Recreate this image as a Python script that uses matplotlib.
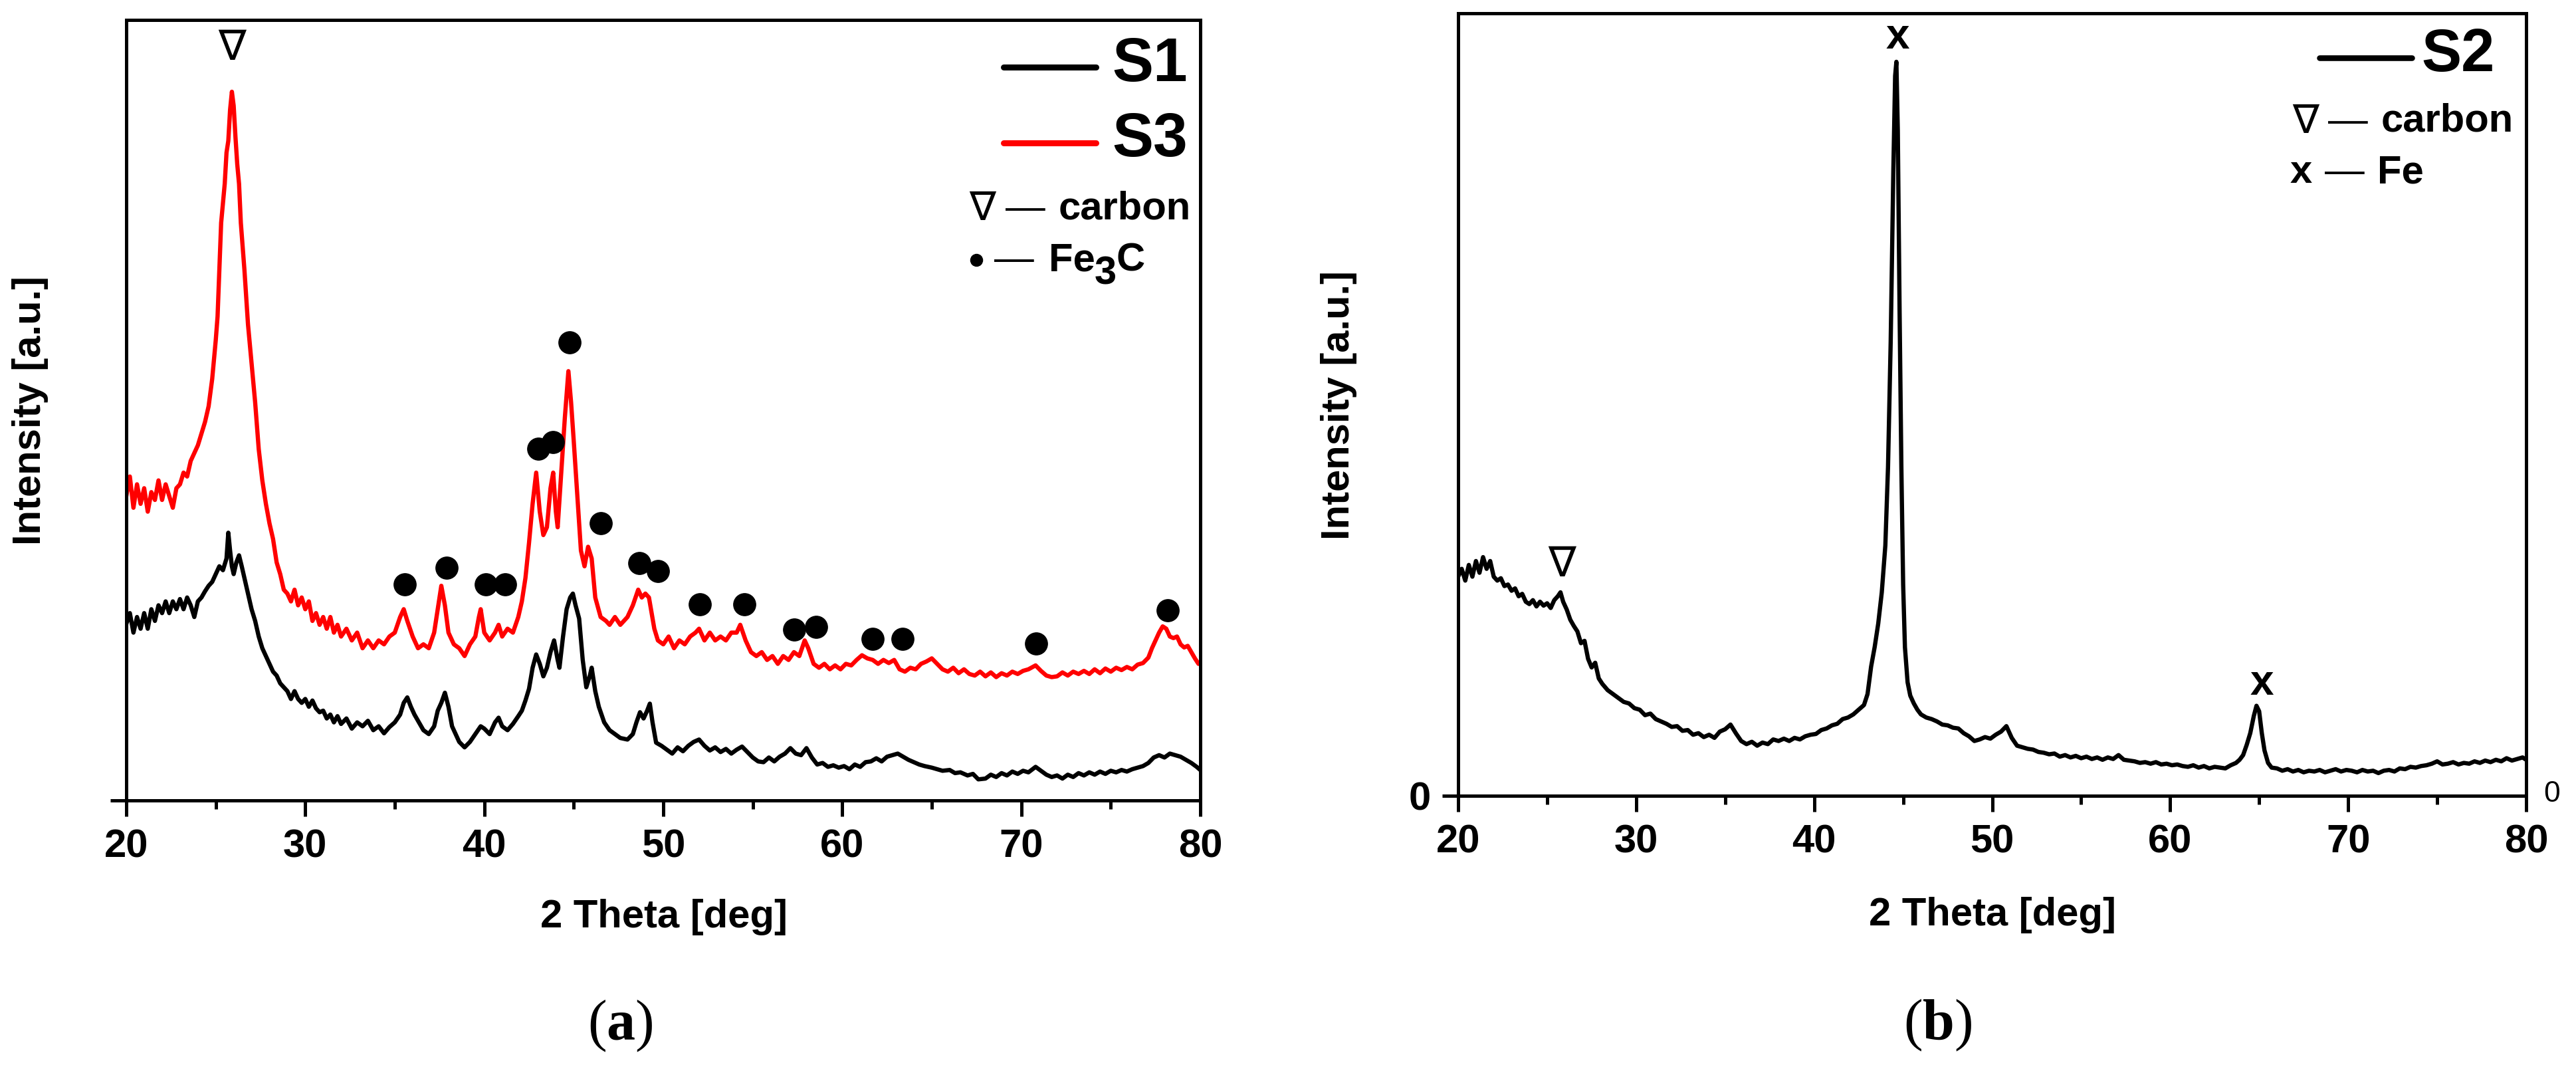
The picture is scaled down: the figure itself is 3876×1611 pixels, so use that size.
import matplotlib
matplotlib.use("Agg")
import matplotlib.pyplot as plt
from matplotlib.lines import Line2D
from matplotlib.ticker import MultipleLocator

plt.rcParams['font.family'] = ['Liberation Sans', 'DejaVu Sans']
plt.rcParams['mathtext.fontset'] = 'custom'
plt.rcParams['mathtext.rm'] = 'Liberation Serif'
plt.rcParams['mathtext.bf'] = 'Liberation Serif:bold'

# ---- data (2theta [deg], intensity [a.u.]) ----
s3_pts = [
    (20.0, 39.0), (20.2, 41.5), (20.4, 37.5), (20.6, 40.5), (20.8, 38.0), (21.0, 40.0),
    (21.2, 37.0), (21.4, 39.5), (21.6, 38.5), (21.8, 41.0), (22.0, 38.5), (22.2, 40.5),
    (22.4, 39.0), (22.6, 37.5), (22.8, 40.0), (23.0, 40.5), (23.2, 42.0), (23.4, 41.5),
    (23.6, 43.5), (23.8, 44.5), (24.0, 45.5), (24.2, 47.0), (24.4, 48.5), (24.6, 50.5),
    (24.8, 54.0), (25.0, 59.0), (25.1, 62.0), (25.2, 68.0), (25.3, 74.0), (25.4, 76.5),
    (25.5, 79.0), (25.6, 83.0), (25.7, 84.5), (25.8, 88.5), (25.9, 90.8), (26.0, 89.0),
    (26.1, 85.0), (26.2, 81.5), (26.3, 79.0), (26.4, 74.0), (26.6, 68.0), (26.8, 61.0),
    (27.0, 56.0), (27.2, 51.0), (27.4, 45.0), (27.6, 41.0), (27.8, 38.0), (28.0, 35.5),
    (28.2, 33.5), (28.4, 30.5), (28.6, 29.0), (28.8, 27.0), (29.0, 26.5), (29.2, 25.5),
    (29.4, 27.0), (29.6, 25.0), (29.8, 26.0), (30.0, 24.5), (30.2, 25.5), (30.4, 23.0),
    (30.6, 24.0), (30.8, 22.5), (31.0, 23.5), (31.2, 22.0), (31.4, 23.5), (31.6, 21.5),
    (31.8, 22.5), (32.0, 21.0), (32.3, 22.0), (32.6, 20.5), (32.9, 21.5), (33.2, 19.5),
    (33.5, 20.5), (33.8, 19.5), (34.1, 20.5), (34.4, 20.0), (34.7, 21.0), (35.0, 21.5),
    (35.3, 23.5), (35.5, 24.5), (35.7, 23.0), (36.0, 21.0), (36.3, 19.5), (36.6, 20.0),
    (36.9, 19.5), (37.2, 21.5), (37.4, 24.5), (37.6, 27.5), (37.8, 25.0), (38.0, 21.5),
    (38.3, 20.0), (38.6, 19.5), (38.9, 18.5), (39.2, 20.0), (39.5, 21.0), (39.7, 23.5),
    (39.8, 24.5), (40.0, 21.5), (40.3, 20.5), (40.6, 21.5), (40.8, 22.5), (41.0, 21.0),
    (41.3, 22.0), (41.6, 21.5), (41.9, 23.5), (42.1, 25.5), (42.3, 28.5), (42.5, 33.0),
    (42.7, 38.0), (42.9, 42.0), (43.1, 37.0), (43.3, 34.0), (43.5, 35.0), (43.7, 40.0),
    (43.85, 42.0), (44.0, 37.0), (44.1, 35.0), (44.3, 42.0), (44.5, 49.0), (44.7, 55.0),
    (44.85, 51.0), (45.0, 46.0), (45.2, 39.0), (45.4, 32.0), (45.6, 30.0), (45.8, 32.5),
    (46.0, 31.0), (46.2, 26.0), (46.5, 23.5), (46.8, 23.0), (47.0, 22.5), (47.3, 23.5),
    (47.6, 22.5), (48.0, 23.5), (48.3, 25.0), (48.6, 27.0), (48.8, 26.0), (49.0, 26.5),
    (49.2, 26.0), (49.5, 22.0), (49.7, 20.5), (50.0, 20.0), (50.3, 21.0), (50.6, 19.5),
    (50.9, 20.5), (51.2, 20.0), (51.5, 21.0), (51.8, 21.5), (52.0, 22.0), (52.3, 20.5),
    (52.6, 21.5), (52.9, 20.5), (53.2, 21.0), (53.5, 20.5), (53.8, 21.5), (54.1, 21.5),
    (54.3, 22.5), (54.6, 20.5), (54.9, 19.0), (55.2, 18.5), (55.5, 19.0), (55.8, 18.0),
    (56.1, 18.5), (56.4, 17.5), (56.7, 18.5), (57.0, 18.0), (57.3, 19.0), (57.6, 18.5),
    (57.9, 20.5), (58.1, 19.5), (58.4, 17.5), (58.7, 17.0), (59.0, 17.5), (59.3, 16.8),
    (59.6, 17.3), (59.9, 16.8), (60.2, 17.5), (60.5, 17.3), (60.8, 18.0), (61.1, 18.6),
    (61.4, 18.2), (61.7, 18.0), (62.0, 17.5), (62.3, 18.0), (62.6, 17.6), (62.9, 18.0),
    (63.2, 16.8), (63.5, 16.5), (63.8, 17.0), (64.1, 16.8), (64.4, 17.5), (64.7, 17.8),
    (65.0, 18.2), (65.3, 17.5), (65.6, 16.8), (65.9, 16.5), (66.2, 17.0), (66.5, 16.3),
    (66.8, 16.8), (67.1, 16.2), (67.4, 16.0), (67.7, 16.5), (68.0, 15.9), (68.3, 16.4),
    (68.6, 15.8), (68.9, 16.3), (69.2, 16.0), (69.5, 16.5), (69.8, 16.2), (70.1, 16.6),
    (70.4, 16.8), (70.8, 17.3), (71.1, 16.6), (71.4, 16.0), (71.7, 15.8), (72.0, 15.9),
    (72.3, 16.4), (72.6, 16.0), (72.9, 16.5), (73.2, 16.2), (73.5, 16.6), (73.8, 16.2),
    (74.1, 16.8), (74.4, 16.3), (74.7, 16.9), (75.0, 16.5), (75.3, 17.0), (75.6, 16.7),
    (75.9, 17.1), (76.2, 16.8), (76.5, 17.4), (76.8, 17.6), (77.1, 18.3), (77.3, 19.5),
    (77.5, 20.5), (77.7, 21.5), (77.9, 22.3), (78.1, 22.0), (78.3, 21.0), (78.5, 20.8),
    (78.7, 21.0), (78.9, 20.0), (79.1, 19.6), (79.3, 19.8), (79.5, 19.0), (79.7, 18.2),
    (79.9, 17.5), (80.0, 17.7),
]

s1_pts = [
    (20.0, 22.6), (20.2, 24.0), (20.4, 21.5), (20.6, 23.5), (20.8, 22.0), (21.0, 24.0),
    (21.2, 22.0), (21.4, 24.5), (21.6, 23.0), (21.8, 25.0), (22.0, 24.0), (22.2, 25.5),
    (22.4, 24.0), (22.6, 25.5), (22.8, 24.5), (23.0, 25.8), (23.2, 24.5), (23.4, 26.0),
    (23.6, 25.0), (23.8, 23.5), (24.0, 25.5), (24.2, 26.0), (24.4, 26.8), (24.6, 27.5),
    (24.8, 28.0), (25.0, 29.0), (25.2, 30.0), (25.4, 29.5), (25.6, 31.0), (25.7, 34.3),
    (25.8, 32.0), (25.9, 30.0), (26.0, 29.0), (26.15, 30.5), (26.3, 31.4), (26.45, 30.0),
    (26.6, 28.5), (26.8, 26.5), (27.0, 24.5), (27.2, 23.0), (27.4, 21.0), (27.6, 19.5),
    (27.8, 18.5), (28.0, 17.5), (28.2, 16.5), (28.4, 16.0), (28.6, 15.0), (28.8, 14.5),
    (29.0, 14.0), (29.2, 13.0), (29.4, 14.0), (29.6, 13.0), (29.8, 12.5), (30.0, 13.0),
    (30.2, 12.0), (30.4, 12.8), (30.6, 11.8), (30.8, 11.3), (31.0, 11.5), (31.2, 10.5),
    (31.4, 11.0), (31.6, 10.0), (31.8, 10.8), (32.0, 9.8), (32.3, 10.5), (32.6, 9.2),
    (32.9, 10.0), (33.2, 9.5), (33.5, 10.2), (33.8, 9.0), (34.1, 9.5), (34.4, 8.6),
    (34.7, 9.4), (35.0, 10.0), (35.3, 11.0), (35.5, 12.5), (35.7, 13.2), (35.9, 12.0),
    (36.1, 11.0), (36.3, 10.2), (36.6, 9.0), (36.9, 8.5), (37.2, 9.5), (37.4, 11.5),
    (37.6, 12.5), (37.8, 13.8), (38.0, 12.0), (38.2, 9.5), (38.4, 8.5), (38.6, 7.5),
    (38.9, 6.8), (39.2, 7.5), (39.5, 8.5), (39.8, 9.5), (40.0, 9.2), (40.3, 8.5),
    (40.6, 10.0), (40.8, 10.6), (41.0, 9.5), (41.3, 9.0), (41.6, 9.8), (41.9, 10.8),
    (42.1, 11.5), (42.3, 12.8), (42.5, 14.3), (42.7, 17.0), (42.9, 18.7), (43.1, 17.5),
    (43.3, 15.9), (43.5, 17.0), (43.7, 19.0), (43.9, 20.5), (44.1, 18.0), (44.2, 17.0),
    (44.4, 21.0), (44.6, 24.5), (44.8, 26.0), (44.95, 26.5), (45.1, 25.0), (45.3, 23.3),
    (45.5, 18.0), (45.7, 14.5), (45.9, 16.0), (46.0, 17.0), (46.2, 14.0), (46.4, 12.0),
    (46.7, 10.0), (47.0, 9.0), (47.3, 8.5), (47.6, 8.0), (48.0, 7.8), (48.3, 8.5),
    (48.5, 10.0), (48.7, 11.3), (48.9, 10.5), (49.1, 11.5), (49.25, 12.4), (49.4, 10.0),
    (49.6, 7.4), (49.9, 7.0), (50.2, 6.5), (50.5, 6.0), (50.8, 6.8), (51.1, 6.3),
    (51.4, 7.0), (51.7, 7.5), (52.0, 7.8), (52.3, 7.0), (52.6, 6.4), (52.9, 6.8),
    (53.2, 6.2), (53.5, 6.6), (53.8, 6.0), (54.1, 6.5), (54.4, 6.9), (54.7, 6.2),
    (55.0, 5.5), (55.3, 5.0), (55.6, 4.9), (55.9, 5.5), (56.2, 5.0), (56.5, 5.6),
    (56.8, 6.0), (57.1, 6.7), (57.4, 6.0), (57.7, 5.8), (58.0, 6.7), (58.3, 5.5),
    (58.6, 4.6), (58.9, 4.8), (59.2, 4.3), (59.5, 4.5), (59.8, 4.2), (60.1, 4.4),
    (60.4, 4.0), (60.7, 4.6), (61.0, 4.3), (61.3, 4.9), (61.6, 5.0), (61.9, 5.4),
    (62.2, 5.0), (62.5, 5.6), (62.8, 5.8), (63.1, 6.0), (63.4, 5.6), (63.7, 5.2),
    (64.0, 4.9), (64.3, 4.6), (64.6, 4.4), (65.0, 4.2), (65.3, 4.0), (65.6, 3.8),
    (66.0, 3.9), (66.3, 3.5), (66.6, 3.6), (67.0, 3.2), (67.3, 3.4), (67.6, 2.7),
    (68.0, 2.8), (68.3, 3.3), (68.6, 3.0), (68.9, 3.5), (69.2, 3.2), (69.5, 3.7),
    (69.8, 3.4), (70.1, 3.8), (70.4, 3.6), (70.8, 4.3), (71.1, 3.8), (71.4, 3.3),
    (71.7, 3.0), (72.0, 3.2), (72.3, 2.8), (72.6, 3.3), (72.9, 3.0), (73.2, 3.5),
    (73.5, 3.2), (73.8, 3.6), (74.1, 3.3), (74.4, 3.7), (74.7, 3.4), (75.0, 3.8),
    (75.3, 3.6), (75.6, 3.9), (75.9, 3.7), (76.2, 4.0), (76.5, 4.2), (76.8, 4.4),
    (77.1, 4.8), (77.4, 5.5), (77.7, 5.8), (78.0, 5.5), (78.3, 6.0), (78.6, 5.8),
    (78.9, 5.6), (79.2, 5.2), (79.5, 4.8), (79.8, 4.3), (80.0, 3.9),
]

s2_pts = [
    (20.0, 28.0), (20.2, 29.0), (20.4, 27.5), (20.6, 29.5), (20.8, 28.0), (21.0, 30.0),
    (21.2, 28.5), (21.4, 30.5), (21.6, 29.0), (21.8, 30.0), (22.0, 28.0), (22.2, 27.5),
    (22.4, 27.8), (22.6, 26.8), (22.8, 27.0), (23.0, 26.2), (23.2, 26.5), (23.4, 25.5),
    (23.6, 25.8), (23.8, 24.8), (24.0, 24.5), (24.2, 25.0), (24.4, 24.2), (24.6, 24.8),
    (24.8, 24.3), (25.0, 24.6), (25.2, 24.0), (25.4, 25.0), (25.6, 25.5), (25.75, 26.0),
    (25.9, 24.8), (26.1, 23.8), (26.3, 22.5), (26.5, 21.7), (26.7, 21.0), (26.9, 19.5),
    (27.1, 19.8), (27.3, 17.5), (27.5, 16.4), (27.7, 17.0), (27.9, 15.0), (28.1, 14.3),
    (28.4, 13.5), (28.7, 13.0), (29.0, 12.5), (29.3, 12.0), (29.6, 11.8), (29.9, 11.2),
    (30.2, 11.0), (30.5, 10.3), (30.8, 10.5), (31.1, 9.8), (31.4, 9.5), (31.7, 9.2),
    (32.0, 8.8), (32.3, 8.9), (32.6, 8.3), (32.9, 8.4), (33.2, 7.8), (33.5, 8.0),
    (33.8, 7.5), (34.1, 7.8), (34.4, 7.4), (34.7, 8.2), (35.0, 8.5), (35.3, 9.1),
    (35.6, 8.0), (35.9, 7.0), (36.2, 6.6), (36.5, 6.9), (36.8, 6.4), (37.1, 6.8),
    (37.4, 6.6), (37.7, 7.2), (38.0, 7.0), (38.3, 7.3), (38.6, 7.0), (38.9, 7.4),
    (39.2, 7.2), (39.5, 7.6), (39.8, 7.8), (40.1, 7.9), (40.4, 8.4), (40.7, 8.6),
    (41.0, 9.0), (41.3, 9.2), (41.6, 9.8), (41.9, 10.0), (42.2, 10.4), (42.5, 11.0),
    (42.8, 11.6), (43.0, 13.0), (43.2, 16.5), (43.4, 19.0), (43.6, 22.0), (43.8, 26.0),
    (44.0, 32.0), (44.15, 42.0), (44.3, 58.0), (44.45, 80.0), (44.55, 92.0), (44.62, 93.8),
    (44.7, 85.0), (44.8, 62.0), (44.9, 42.0), (45.0, 27.0), (45.1, 19.0), (45.25, 14.5),
    (45.4, 12.8), (45.6, 11.8), (45.8, 11.0), (46.0, 10.4), (46.3, 10.0), (46.6, 9.8),
    (46.9, 9.5), (47.2, 9.1), (47.5, 9.0), (47.8, 8.7), (48.1, 8.6), (48.4, 8.0),
    (48.7, 7.6), (49.0, 7.0), (49.3, 7.2), (49.6, 7.5), (49.9, 7.3), (50.2, 7.8),
    (50.5, 8.2), (50.8, 8.9), (51.1, 7.4), (51.4, 6.4), (51.7, 6.2), (52.0, 6.0),
    (52.3, 5.9), (52.6, 5.6), (52.9, 5.5), (53.2, 5.3), (53.5, 5.4), (53.8, 5.0),
    (54.1, 5.2), (54.4, 4.9), (54.7, 5.1), (55.0, 4.8), (55.3, 5.0), (55.6, 4.7),
    (55.9, 4.9), (56.2, 4.6), (56.5, 4.9), (56.8, 4.7), (57.1, 5.2), (57.4, 4.6),
    (57.7, 4.5), (58.0, 4.4), (58.3, 4.2), (58.6, 4.3), (58.9, 4.1), (59.2, 4.3),
    (59.5, 4.0), (59.8, 4.1), (60.1, 3.9), (60.4, 4.0), (60.7, 3.8), (61.0, 3.7),
    (61.3, 3.9), (61.6, 3.6), (61.9, 3.8), (62.2, 3.5), (62.5, 3.7), (62.8, 3.6),
    (63.1, 3.5), (63.4, 3.9), (63.7, 4.2), (63.9, 4.6), (64.1, 5.2), (64.3, 6.5),
    (64.5, 8.0), (64.7, 10.2), (64.85, 11.5), (65.0, 10.8), (65.15, 8.0), (65.3, 5.8),
    (65.5, 4.2), (65.7, 3.6), (66.0, 3.5), (66.3, 3.2), (66.6, 3.4), (66.9, 3.1),
    (67.2, 3.3), (67.5, 3.0), (67.8, 3.2), (68.1, 3.1), (68.4, 3.3), (68.7, 3.0),
    (69.0, 3.2), (69.3, 3.4), (69.6, 3.1), (69.9, 3.3), (70.2, 3.2), (70.5, 3.0),
    (70.8, 3.3), (71.1, 3.1), (71.4, 3.2), (71.7, 2.9), (72.0, 3.2), (72.3, 3.3),
    (72.6, 3.1), (72.9, 3.5), (73.2, 3.4), (73.5, 3.7), (73.8, 3.6), (74.1, 3.8),
    (74.4, 3.9), (74.7, 4.1), (75.0, 4.4), (75.3, 4.0), (75.6, 4.1), (75.9, 4.3),
    (76.2, 4.0), (76.5, 4.2), (76.8, 4.1), (77.1, 4.4), (77.4, 4.2), (77.7, 4.5),
    (78.0, 4.3), (78.3, 4.6), (78.6, 4.4), (78.9, 4.8), (79.2, 4.5), (79.5, 4.7),
    (79.8, 4.9), (80.0, 4.6),
]

# Fe3C reflections marked with dots in (a)
fe3c_theta = [35.54, 37.88, 40.08, 41.18, 43.01, 43.84, 44.75, 46.50, 48.65,
              49.70, 52.04, 54.52, 57.31, 58.55, 61.71, 63.36, 70.84, 78.17]
fe3c_int = [27.7, 29.8, 27.7, 27.7, 45.1, 45.9, 58.7, 35.5, 30.4,
            29.4, 25.1, 25.1, 21.9, 22.2, 20.7, 20.7, 20.1, 24.4]
carbon_a = (25.9, 96.3)
carbon_b = (25.83, 29.5)
fe_theta = [44.68, 65.15]
fe_int = [96.9, 14.4]

xticks = [20, 30, 40, 50, 60, 70, 80]

W, H = 3876, 1611
fig = plt.figure(figsize=(W / 100, H / 100), dpi=100)


def fx(x):
    return x / W


def fy(y):
    return 1 - y / H


def ftext(x, y, s, **kw):
    return fig.text(fx(x), fy(y), s, **kw)


def fline(x0, x1, y, color, lw):
    fig.add_artist(Line2D([fx(x0), fx(x1)], [fy(y), fy(y)], color=color, lw=lw,
                          solid_capstyle='round'))


def style(ax, ylab):
    ax.set_xlim(20, 80)
    ax.set_ylim(0, 100)
    ax.set_xticks(xticks)
    ax.set_xticklabels([str(t) for t in xticks], fontweight='bold', fontsize=43)
    ax.xaxis.set_minor_locator(MultipleLocator(5))
    ax.set_yticks([0])
    ax.set_yticklabels([ylab], fontweight='bold', fontsize=43)
    ax.tick_params(which='major', direction='out', length=17.3, width=3.6)
    ax.tick_params(axis='x', which='major', pad=13)
    ax.tick_params(axis='y', which='major', pad=12)
    ax.tick_params(which='minor', direction='out', length=9.4, width=3.6)
    for sp in ax.spines.values():
        sp.set_linewidth(3.6)


lw_curve = 4.6

# ---------------- panel (a) ----------------
ax_a = fig.add_axes([fx(190), fy(1204), 1616 / W, 1174 / H])
ax_a.plot([p[0] for p in s1_pts], [p[1] for p in s1_pts], color='black', lw=lw_curve,
          solid_joinstyle='round')
ax_a.plot([p[0] for p in s3_pts], [p[1] for p in s3_pts], color='#ff0000', lw=lw_curve,
          solid_joinstyle='round')
ax_a.plot(fe3c_theta, fe3c_int, 'o', color='black', ms=24, ls='none')
ax_a.text(carbon_a[0], carbon_a[1], '∇', ha='center', va='center', fontsize=45,
          family=['DejaVu Sans'])
style(ax_a, '')

# legend of (a)
fline(1510, 1649, 101, 'black', 6.5)
ftext(1673, 122, 'S1', fontsize=67, fontweight='bold', va='baseline')
fline(1510, 1649, 215, '#ff0000', 6.5)
ftext(1673, 235, 'S3', fontsize=67, fontweight='bold', va='baseline')
ftext(1458, 331, '∇', fontsize=43, family=['DejaVu Sans'], va='baseline')
ftext(1543, 330, '—', fontsize=43, ha='center', va='baseline')
ftext(1593, 330, 'carbon', fontsize=43, fontweight='bold', va='baseline')
fig.add_artist(Line2D([fx(1469)], [fy(391)], marker='o', ms=13, color='black', ls='none'))
ftext(1526, 407, '—', fontsize=43, ha='center', va='baseline')
ftext(1578, 407, 'Fe', fontsize=43, fontweight='bold', va='baseline')
ftext(1647, 428, '3', fontsize=43, fontweight='bold', va='baseline')
ftext(1680, 407, 'C', fontsize=43, fontweight='bold', va='baseline')

ftext(46, 617, 'Intensity [a.u.]', fontsize=43, fontweight='bold', rotation=90,
      ha='center', va='center')
ftext(999, 1395, '2 Theta [deg]', fontsize=43, fontweight='bold', ha='center', va='baseline')
ftext(933, 1543, r'($\mathbf{a}$)', fontsize=62, family=['Liberation Serif'],
      ha='center', va='center')

# ---------------- panel (b) ----------------
ax_b = fig.add_axes([fx(2194), fy(1197), 1607 / W, 1177 / H])
ax_b.plot([p[0] for p in s2_pts], [p[1] for p in s2_pts], color='black', lw=lw_curve,
          solid_joinstyle='round')
for t, i in zip(fe_theta, fe_int):
    ax_b.text(t, i, 'x', ha='center', va='center', fontsize=46, fontweight='bold')
ax_b.text(carbon_b[0], carbon_b[1], '∇', ha='center', va='center', fontsize=45,
          family=['DejaVu Sans'])
style(ax_b, '0')

# legend of (b)
fline(3490, 3629, 87, 'black', 6.2)
ftext(3643, 107, 'S2', fontsize=65, fontweight='bold', va='baseline')
ftext(3449, 200, '∇', fontsize=43, family=['DejaVu Sans'], va='baseline')
ftext(3533, 199, '—', fontsize=43, ha='center', va='baseline')
ftext(3583, 197, 'carbon', fontsize=43, fontweight='bold', va='baseline')
ftext(3446, 275, 'x', fontsize=43, fontweight='bold', va='baseline')
ftext(3528, 275, '—', fontsize=43, ha='center', va='baseline')
ftext(3577, 275, 'Fe', fontsize=43, fontweight='bold', va='baseline')

ftext(3840, 1194, '0', fontsize=32, ha='center', va='center')
ftext(2015, 610, 'Intensity [a.u.]', fontsize=43, fontweight='bold', rotation=90,
      ha='center', va='center')
ftext(2998, 1392, '2 Theta [deg]', fontsize=43, fontweight='bold', ha='center', va='baseline')
ftext(2916, 1542, r'($\mathbf{b}$)', fontsize=62, family=['Liberation Serif'],
      ha='center', va='center')

fig.savefig('out.png', dpi=100, facecolor='white')
